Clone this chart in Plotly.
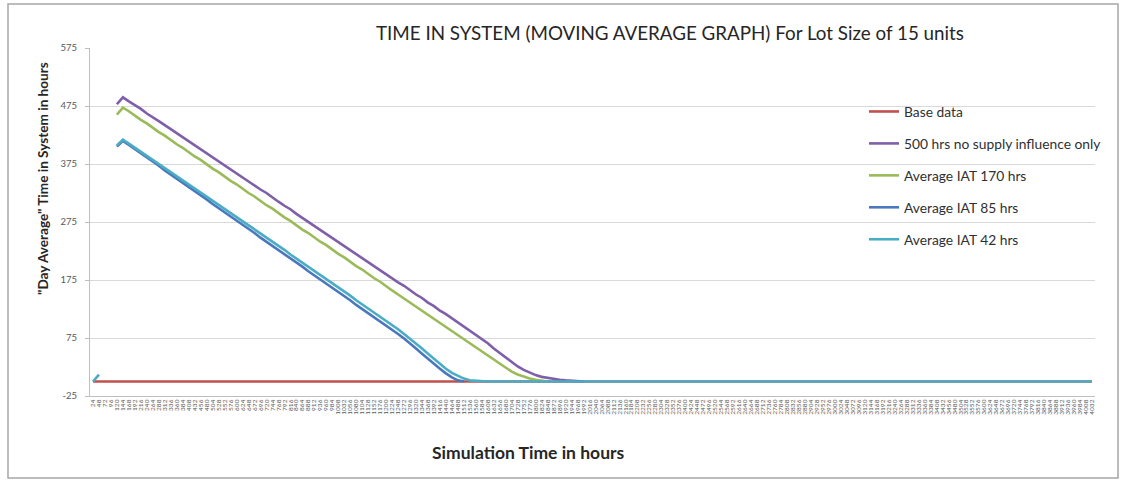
import plotly.graph_objects as go

# Simulation time axis (hours), one entry per daily moving-average point
hours = [
    24, 48, 72, 96, 120, 144, 168, 192, 216, 240,
    264, 288, 312, 336, 360, 384, 408, 432, 456, 480,
    504, 528, 552, 576, 600, 624, 648, 672, 696, 720,
    744, 768, 792, 816, 840, 864, 888, 912, 936, 960,
    984, 1008, 1032, 1056, 1080, 1104, 1128, 1152, 1176, 1200,
    1224, 1248, 1272, 1296, 1320, 1344, 1368, 1392, 1416, 1440,
    1464, 1488, 1512, 1536, 1560, 1584, 1608, 1632, 1656, 1680,
    1704, 1728, 1752, 1776, 1800, 1824, 1848, 1872, 1896, 1920,
    1944, 1968, 1992, 2016, 2040, 2064, 2088, 2112, 2136, 2160,
    2184, 2208, 2232, 2256, 2280, 2304, 2328, 2352, 2376, 2400,
    2424, 2448, 2472, 2496, 2520, 2544, 2568, 2592, 2616, 2640,
    2664, 2688, 2712, 2736, 2760, 2784, 2808, 2832, 2856, 2880,
    2904, 2928, 2952, 2976, 3000, 3024, 3048, 3072, 3096, 3120,
    3144, 3168, 3192, 3216, 3240, 3264, 3288, 3312, 3336, 3360,
    3384, 3408, 3432, 3456, 3480, 3504, 3528, 3552, 3576, 3600,
    3624, 3648, 3672, 3696, 3720, 3744, 3768, 3792, 3816, 3840,
    3864, 3888, 3912, 3936, 3960, 3984, 4008, 4032,
]
hour_labels = [str(h) for h in hours]

base_data = [
    0, 0, 0, 0, 0, 0, 0, 0, 0, 0, 0, 0, 0, 0, 0, 0, 0, 0, 0, 0,
    0, 0, 0, 0, 0, 0, 0, 0, 0, 0, 0, 0, 0, 0, 0, 0, 0, 0, 0, 0,
    0, 0, 0, 0, 0, 0, 0, 0, 0, 0, 0, 0, 0, 0, 0, 0, 0, 0, 0, 0,
    0, 0, 0, 0, 0, 0, 0, 0, 0, 0, 0, 0, 0, 0, 0, 0, 0, 0, 0, 0,
    0, 0, 0, 0, 0, 0, 0, 0, 0, 0, 0, 0, 0, 0, 0, 0, 0, 0, 0, 0,
    0, 0, 0, 0, 0, 0, 0, 0, 0, 0, 0, 0, 0, 0, 0, 0, 0, 0, 0, 0,
    0, 0, 0, 0, 0, 0, 0, 0, 0, 0, 0, 0, 0, 0, 0, 0, 0, 0, 0, 0,
    0, 0, 0, 0, 0, 0, 0, 0, 0, 0, 0, 0, 0, 0, 0, 0, 0, 0, 0, 0,
    0, 0, 0, 0, 0, 0, 0, 0,
]

no_supply_500 = [
    None, None, None, None, 478, 490, 483, 477, 470, 462,
    456, 449, 442, 435, 428, 421, 415, 407, 400, 394,
    386, 380, 372, 366, 359, 352, 345, 337, 331, 325,
    317, 310, 303, 297, 289, 282, 276, 268, 261, 255,
    247, 241, 234, 226, 220, 213, 206, 199, 192, 185,
    178, 171, 165, 157, 150, 144, 136, 130, 122, 116,
    109, 102, 95, 88, 81, 74, 66, 57, 49, 41,
    33, 26, 20, 15, 11, 8, 6, 4, 3, 2,
    1, 0.5, 0,
]

iat_170 = [
    None, None, None, None, 460, 472, 466, 458, 451, 445,
    437, 430, 424, 416, 409, 403, 395, 388, 382, 374,
    367, 361, 353, 346, 340, 332, 325, 319, 311, 304,
    298, 290, 283, 277, 269, 262, 256, 248, 241, 235,
    227, 220, 214, 206, 199, 193, 185, 178, 172, 164,
    157, 150, 143, 136, 129, 122, 115, 108, 101, 94,
    87, 80, 73, 66, 59, 52, 45, 38, 30, 23,
    17, 12, 8, 5, 3, 1, 0,
]

iat_85 = [
    None, None, None, None, 405, 415, 408, 401, 393, 386,
    379, 372, 364, 357, 350, 343, 335, 328, 321, 314,
    306, 299, 292, 285, 277, 270, 263, 256, 248, 241,
    234, 227, 219, 212, 205, 198, 190, 183, 176, 169,
    161, 154, 147, 140, 132, 125, 118, 111, 103, 96,
    89, 82, 74, 66, 57, 48, 39, 30, 22, 14,
    7, 2, 0,
]

iat_42 = [
    0, 12, None, None, 407, 417, 410, 403, 396, 389,
    382, 375, 368, 361, 354, 347, 340, 333, 326, 319,
    311, 304, 297, 290, 283, 276, 269, 262, 255, 248,
    241, 234, 227, 219, 212, 205, 198, 191, 183, 176,
    169, 162, 155, 148, 140, 133, 126, 119, 112, 104,
    97, 90, 82, 74, 66, 57, 48, 39, 30, 22,
    15, 10, 5, 2, 1, 0, 0, 0, 0, 0,
    0, 0, 0, 0, 0, 0, 0, 0, 0, 0, 0, 0, 0, 0, 0, 0, 0, 0, 0, 0,
    0, 0, 0, 0, 0, 0, 0, 0, 0, 0, 0, 0, 0, 0, 0, 0, 0, 0, 0, 0,
    0, 0, 0, 0, 0, 0, 0, 0, 0, 0, 0, 0, 0, 0, 0, 0, 0, 0, 0, 0,
    0, 0, 0, 0, 0, 0, 0, 0, 0, 0, 0, 0, 0, 0, 0, 0, 0, 0, 0, 0,
    0, 0, 0, 0, 0, 0, 0, 0, 0, 0, 0, 0, 0, 0, 0, 0, 0, 0,
]

series_names = [
    "Base data",
    "500 hrs no supply influence only",
    "Average IAT 170 hrs",
    "Average IAT 85 hrs",
    "Average IAT 42 hrs",
]
series_values = [base_data, no_supply_500, iat_170, iat_85, iat_42]
series_colors = ["#C0504D", "#7F5FA8", "#9BBB59", "#4A78BC", "#4BACC6"]

y_ticks = [-25, 75, 175, 275, 375, 475, 575]

fig = go.Figure()
for name, vals, color in zip(series_names, series_values, series_colors):
    ys = list(vals) + [None] * (len(hours) - len(vals))
    fig.add_trace(go.Scatter(
        x=hours, y=ys, name=name, mode="lines",
        line=dict(color=color, width=2.6),
        legendgroup=name, connectgaps=False,
    ))

W, H = 1123, 480
L, R, T, B = 90, 28, 48, 84
pw, ph = W - L - R, H - T - B

def px_x(p):
    return (p - L) / pw

def px_y(p):
    return (H - B - p) / ph

fig.update_layout(
    width=W, height=H,
    margin=dict(l=L, r=R, t=T, b=B),
    paper_bgcolor="white", plot_bgcolor="white",
    font=dict(family="Lato, Open Sans, sans-serif", color="#404040"),
    showlegend=True,
    legend=dict(
        x=px_x(864), y=px_y(96), xanchor="left", yanchor="top",
        bgcolor="rgba(0,0,0,0)", font=dict(size=13.8, color="#303030"),
        tracegroupgap=11, itemwidth=30,
    ),
    xaxis=dict(
        range=[hours[0] - 12, hours[-1] + 12],
        tickmode="array", tickvals=hours, ticktext=hour_labels,
        tickangle=-90, tickfont=dict(size=6.5, color="#595959"),
        showgrid=False, zeroline=False,
        showline=True, linecolor="#BFBFBF", linewidth=1,
        ticks="", automargin=False,
    ),
    yaxis=dict(
        range=[-25, 575], tickmode="array", tickvals=y_ticks,
        ticktext=[str(v) for v in y_ticks],
        tickfont=dict(size=9.5, color="#595959"),
        showgrid=True, gridcolor="#D9D9D9", gridwidth=1.2,
        zeroline=False, showline=True, linecolor="#BFBFBF", linewidth=1,
        ticks="outside", ticklen=4, tickcolor="#BFBFBF",
        ticklabelstandoff=6, automargin=False,
    ),
    shapes=[
        # white panel behind the chart title
        dict(type="rect", xref="paper", yref="paper", layer="above",
             x0=px_x(363), x1=px_x(1010), y0=px_y(54), y1=px_y(14),
             fillcolor="white", line=dict(width=0)),
        # outer frame
        dict(type="rect", xref="paper", yref="paper", layer="above",
             x0=px_x(8), x1=px_x(1118), y0=px_y(478), y1=px_y(4),
             fillcolor="rgba(0,0,0,0)", line=dict(color="#A6A6A6", width=1.5)),
    ],
    annotations=[
        dict(text="TIME IN SYSTEM (MOVING AVERAGE GRAPH) For Lot Size of 15 units",
             xref="paper", yref="paper", x=px_x(670), y=px_y(33),
             xanchor="center", yanchor="middle", showarrow=False,
             font=dict(size=18.8, color="#262626")),
        dict(text="<b>\"Day Average\" Time in System in hours</b>",
             xref="paper", yref="paper", x=px_x(43), y=px_y(179),
             xanchor="center", yanchor="middle", showarrow=False, textangle=-90,
             font=dict(size=13.6, color="#262626")),
        dict(text="<b>Simulation Time in hours</b>",
             xref="paper", yref="paper", x=px_x(528), y=px_y(452),
             xanchor="center", yanchor="middle", showarrow=False,
             font=dict(size=17.5, color="#262626")),
    ],
)

fig.write_html("out.html")
